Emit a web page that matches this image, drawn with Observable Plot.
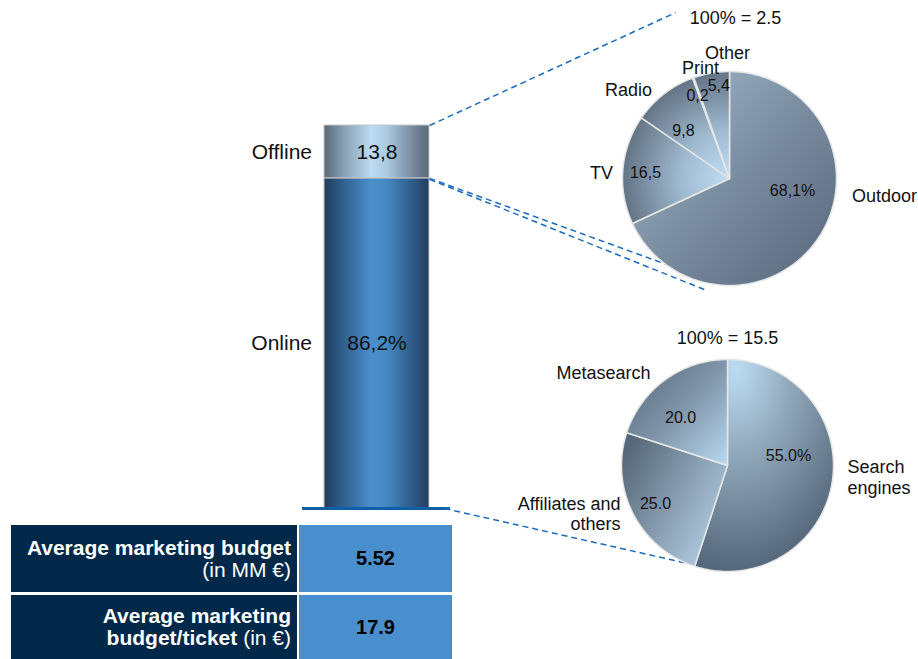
<!DOCTYPE html>
<html>
<head>
<meta charset="utf-8">
<script src="https://cdn.jsdelivr.net/npm/d3@7"></script>
<script src="https://cdn.jsdelivr.net/npm/@observablehq/plot@0.6"></script>
<style>
  body { margin: 0; background: #fff; font-family: "Liberation Sans", Arial, sans-serif; }
  #root { position: relative; width: 918px; height: 659px; overflow: hidden; background: #fff; }
  #root > svg, #root > div { position: absolute; }
  .kpi-name { background: #03294a; color: #fff; text-align: right; font-size: 21px; line-height: 22px;
              display: flex; flex-direction: column; align-items: flex-end; justify-content: center; box-sizing: border-box; padding-right: 6px; }
  .kpi-name b { font-weight: bold; }
  .kpi-val { background: #4a8fcd; color: #000; font-size: 20px; font-weight: bold;
             display: flex; align-items: center; justify-content: center; }
</style>
</head>
<body>
<div id="root"></div>
<script>
// ---------------- DATA ----------------
const channels = ["Online", "Offline"];
const channelShares = [86.2, 13.8];
const channelLabels = ["86,2%", "13,8"];

const offlineCats = ["Outdoor", "TV", "Radio", "Print", "Other"];
const offlineShares = [68.1, 16.5, 9.8, 0.2, 5.4];
const offlineLabels = ["68,1%", "16,5", "9,8", "0,2", "5,4"];
const offlineTotal = "100% = 2.5";

const onlineCats = ["Search engines", "Affiliates and others", "Metasearch"];
const onlineCatText = ["Search\nengines", "Affiliates and\nothers", "Metasearch"];
const onlineShares = [55.0, 25.0, 20.0];
const onlineLabels = ["55.0%", "25.0", "20.0"];
const onlineTotal = "100% = 15.5";

const kpiNames = ["Average marketing budget", "Average marketing\nbudget/ticket"];
const kpiUnits = ["(in MM €)", "(in €)"];
const kpiValues = ["5.52", "17.9"];

// ---------------- LAYOUT ----------------
const FONT = '"Liberation Sans", Arial, sans-serif';
const BAR = {left: 230, top: 110, width: 230, height: 410};
const P1 = {left: 560, top: 0, width: 358, height: 300, cx: 169, cy: 178, r: 107};
const P2 = {left: 490, top: 315, width: 428, height: 275, cx: 237, cy: 150, r: 106};
// label anchors in pie units (u right, v up)
const p1CatPos = [[1.449, -0.159], [-1.196, 0.056], [-0.944, 0.832], [-0.27, 1.035], [-0.019, 1.18]];
const p1ValPos = [[0.589, -0.112], [-0.785, 0.056], [-0.43, 0.449], [-0.299, 0.776], [-0.1, 0.865]];
const p1TitlePos = [0.056, 1.495];
const p2CatPos = [[1.132, -0.108], [-1.009, -0.453], [-1.17, 0.877]];
const p2CatAnchor = ["start", "end", "middle"];
const p2ValPos = [[0.575, 0.094], [-0.679, -0.358], [-0.443, 0.453]];
const p2TitlePos = [0, 1.198];

const root = document.getElementById("root");

// gradient definitions (shared)
const defsSvg = document.createElementNS("http://www.w3.org/2000/svg", "svg");
defsSvg.setAttribute("width", 0); defsSvg.setAttribute("height", 0);
defsSvg.innerHTML = `<defs>
 <linearGradient id="gOnline" x1="0" y1="0" x2="1" y2="0">
  <stop offset="0" stop-color="#213d5c"/><stop offset="0.14" stop-color="#2d5882"/>
  <stop offset="0.45" stop-color="#4a8fcc"/><stop offset="0.6" stop-color="#4587c2"/>
  <stop offset="0.85" stop-color="#2e5a86"/><stop offset="1" stop-color="#213d5c"/>
 </linearGradient>
 <linearGradient id="gOffline" x1="0" y1="0" x2="1" y2="0">
  <stop offset="0" stop-color="#5a6977"/><stop offset="0.2" stop-color="#8aa2b7"/>
  <stop offset="0.45" stop-color="#bedcf2"/><stop offset="0.6" stop-color="#aacae2"/>
  <stop offset="0.85" stop-color="#75899b"/><stop offset="1" stop-color="#5a6977"/>
 </linearGradient>
 <linearGradient id="gOutdoor" x1="0" y1="0" x2="1" y2="1">
  <stop offset="0" stop-color="#a9bdce"/><stop offset="0.5" stop-color="#7a8ca0"/>
  <stop offset="1" stop-color="#56677a"/>
 </linearGradient>
 <radialGradient id="gOffSmall" gradientUnits="userSpaceOnUse" cx="${P1.cx}" cy="${P1.cy}" r="${P1.r}">
  <stop offset="0" stop-color="#c2def4"/><stop offset="0.45" stop-color="#a0bbd1"/>
  <stop offset="0.8" stop-color="#7a8da0"/><stop offset="1" stop-color="#637486"/>
 </radialGradient>
 <radialGradient id="gSearch" cx="0.3" cy="0.05" r="0.95">
  <stop offset="0" stop-color="#bcdcf3"/><stop offset="0.4" stop-color="#93aabd"/>
  <stop offset="1" stop-color="#55677a"/>
 </radialGradient>
 <linearGradient id="gAff" x1="0" y1="0.2" x2="1" y2="0.9">
  <stop offset="0" stop-color="#56687a"/><stop offset="0.6" stop-color="#94aabd"/>
  <stop offset="1" stop-color="#b9d8f0"/>
 </linearGradient>
 <linearGradient id="gMeta" x1="0" y1="0" x2="1" y2="1">
  <stop offset="0" stop-color="#55677a"/><stop offset="0.5" stop-color="#7f94a8"/>
  <stop offset="1" stop-color="#b9d9f1"/>
 </linearGradient>
</defs>`;
root.appendChild(defsSvg);

function place(el, L) {
  el.style.left = L.left + "px"; el.style.top = L.top + "px";
  el.style.width = L.width + "px"; el.style.height = L.height + "px";
  root.appendChild(el);
  return el;
}

// ---------------- STACKED BAR ----------------
const barData = channels.map((c, i) => ({group: "mix", channel: c, share: channelShares[i], label: channelLabels[i]}));
const barPlot = Plot.plot({
  width: BAR.width, height: BAR.height,
  marginTop: 15, marginBottom: 12, marginLeft: 72, marginRight: 10,
  x: {domain: ["mix"], padding: 0.17, axis: null},
  y: {domain: [0, 100], axis: null},
  color: {domain: channels, range: ["url(#gOnline)", "url(#gOffline)"]},
  style: {background: "transparent", overflow: "visible", fontFamily: FONT},
  marks: [
    Plot.barY(barData, {x: "group", y: "share", fill: "channel", stroke: "#c8c8c8", strokeWidth: 1}),
    Plot.ruleY([0], {stroke: "#0e5fa8", strokeWidth: 3}),
    Plot.text(barData, Plot.stackY({x: "group", y: "share", text: "label", fontSize: 21, fill: "#111"})),
    Plot.text(barData, Plot.stackY({x: "group", y: "share", text: "channel", fontSize: 21, fill: "#111", textAnchor: "end", dx: -65}))
  ]
});
place(barPlot, BAR);

// ---------------- PIES ----------------
function sliceRings(cats, shares) {
  const total = d3.sum(shares);
  let a0 = 0;
  return cats.map((c, i) => {
    const a1 = a0 + shares[i] / total * 2 * Math.PI;
    const n = Math.max(2, Math.ceil((a1 - a0) / (Math.PI / 180)));
    const pts = [{cat: c, u: 0, v: 0}];
    for (let k = 0; k <= n; k++) {
      const a = a0 + (a1 - a0) * k / n;
      pts.push({cat: c, u: Math.sin(a), v: Math.cos(a)});
    }
    pts.push({cat: c, u: 0, v: 0});
    a0 = a1;
    return pts;
  });
}

function piePlot(L, cats, shares, fills, catText, catPos, catAnchor, valText, valPos, title, titlePos) {
  const rings = sliceRings(cats, shares);
  const marks = rings.map((pts, i) => Plot.line(pts, {x: "u", y: "v", fill: fills[i], stroke: "#e6e6e6", strokeWidth: 1.5, strokeLinejoin: "round"}));
  catText.forEach((t, i) => marks.push(Plot.text([t], {x: [catPos[i][0]], y: [catPos[i][1]], text: d => d, fontSize: 18, lineHeight: 1.15, fill: "#111", textAnchor: catAnchor[i]})));
  valText.forEach((t, i) => marks.push(Plot.text([t], {x: [valPos[i][0]], y: [valPos[i][1]], text: d => d, fontSize: 16, fill: "#111"})));
  marks.push(Plot.text([title], {x: [titlePos[0]], y: [titlePos[1]], text: d => d, fontSize: 18, fill: "#111"}));
  return Plot.plot({
    width: L.width, height: L.height,
    marginLeft: L.cx - L.r, marginRight: L.width - L.cx - L.r,
    marginTop: L.cy - L.r, marginBottom: L.height - L.cy - L.r,
    x: {domain: [-1, 1], axis: null}, y: {domain: [-1, 1], axis: null},
    style: {background: "transparent", overflow: "visible", fontFamily: FONT},
    marks
  });
}

const pie1 = piePlot(P1, offlineCats, offlineShares,
  ["url(#gOutdoor)", "url(#gOffSmall)", "url(#gOffSmall)", "url(#gOffSmall)", "url(#gOffSmall)"],
  offlineCats, p1CatPos, offlineCats.map(() => "middle"), offlineLabels, p1ValPos, offlineTotal, p1TitlePos);
const pie2 = piePlot(P2, onlineCats, onlineShares,
  ["url(#gSearch)", "url(#gAff)", "url(#gMeta)"],
  onlineCatText, p2CatPos, p2CatAnchor, onlineLabels, p2ValPos, onlineTotal, p2TitlePos);

// ---------------- CONNECTORS ----------------
const xb = barPlot.scale("x"), yb = barPlot.scale("y");
const bw = xb.bandwidth != null ? xb.bandwidth : 105;
const barRight = BAR.left + xb.apply("mix") + bw;
const by = v => BAR.top + yb.apply(v);
function polar(plot, L, deg, rho) {
  const a = deg * Math.PI / 180;
  return [L.left + plot.scale("x").apply(rho * Math.sin(a)), L.top + plot.scale("y").apply(rho * Math.cos(a))];
}
const onlineTop = channelShares[0];
const links = [
  {a: [barRight, by(100)], b: polar(pie1, P1, 342, 1.63)},
  {a: [barRight, by(onlineTop)], b: polar(pie1, P1, 194.7, 0.96)},
  {a: [barRight, by(onlineTop) + 1], b: polar(pie1, P1, 191, 1.07)},
  {a: [barRight + 15, by(0)], b: polar(pie2, P2, 186.6, 0.99)}
];
const overlay = Plot.plot({
  width: 918, height: 659, margin: 0,
  x: {domain: [0, 918], range: [0, 918], axis: null},
  y: {domain: [0, 659], range: [0, 659], axis: null},
  style: {background: "transparent", overflow: "visible"},
  marks: [
    Plot.link(links, {x1: d => d.a[0], y1: d => d.a[1], x2: d => d.b[0], y2: d => d.b[1],
      stroke: "#1a6bbf", strokeWidth: 1.5, strokeDasharray: "6,4"})
  ]
});
place(overlay, {left: 0, top: 0, width: 918, height: 659});
overlay.style.pointerEvents = "none";
place(pie1, P1);
place(pie2, P2);

// ---------------- KPI TABLE ----------------
const rows = [{top: 525, height: 67}, {top: 595, height: 64}];
kpiNames.forEach((name, i) => {
  const n = document.createElement("div");
  n.className = "kpi-name";
  const lines = name.split("\n");
  lines.forEach((ln, k) => {
    const line = document.createElement("div");
    const b = document.createElement("b");
    b.textContent = ln;
    line.appendChild(b);
    if (k === lines.length - 1) {
      const u = document.createElement("span");
      u.textContent = kpiUnits[i];
      line.appendChild(document.createTextNode(" "));
      line.appendChild(u);
    }
    line.style.textAlign = "right";
    line.style.maxWidth = "280px";
    n.appendChild(line);
  });
  place(n, {left: 11, top: rows[i].top, width: 286, height: rows[i].height});
  const v = document.createElement("div");
  v.className = "kpi-val";
  v.textContent = kpiValues[i];
  place(v, {left: 299, top: rows[i].top, width: 153, height: rows[i].height});
});
</script>
</body>
</html>
